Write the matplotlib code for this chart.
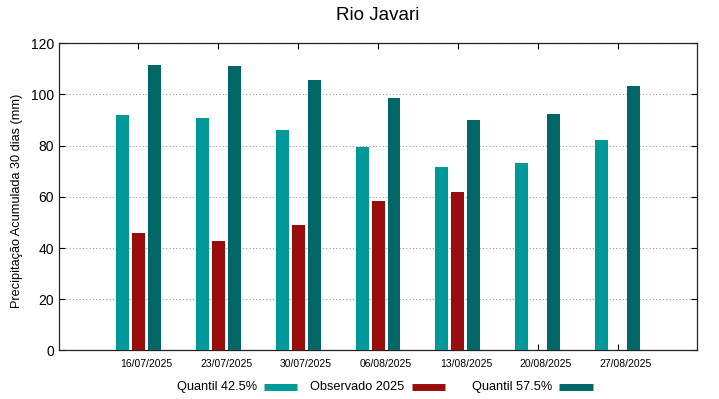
import numpy as np
import matplotlib
matplotlib.use("Agg")
import matplotlib.pyplot as plt
import matplotlib.transforms as mtransforms
from matplotlib.lines import Line2D

plt.rcParams['font.family'] = ['Liberation Sans', 'DejaVu Sans']

# Dados
datas = ['16/07/2025', '23/07/2025', '30/07/2025', '06/08/2025',
         '13/08/2025', '20/08/2025', '27/08/2025']
quantil_425 = [91.9, 91.0, 86.3, 79.5, 71.7, 73.1, 82.2]
observado = [45.7, 42.9, 48.9, 58.5, 61.9, np.nan, np.nan]
quantil_575 = [111.5, 111.2, 105.5, 98.8, 90.0, 92.3, 103.2]

cor_q1 = '#009999'
cor_obs = '#990d0d'
cor_q2 = '#006666'

fig = plt.figure(figsize=(7.19, 3.99), dpi=100)
ax = fig.add_axes([0.0821, 0.1216, 0.8873, 0.7699])

x = np.arange(len(datas))
w = 0.1625
ax.bar(x - 0.2, quantil_425, w, color=cor_q1, zorder=3)
ax.bar(x, observado, w, color=cor_obs, zorder=3)
ax.bar(x + 0.2, quantil_575, w, color=cor_q2, zorder=3)

ax.set_xlim(-0.99, 6.99)
ax.set_ylim(0, 120)
ax.set_yticks(np.arange(0, 121, 20))
ax.set_xticks(x)
ax.set_xticklabels(datas, fontsize=7.5)
ax.tick_params(axis='y', labelsize=10, direction='in', right=True, length=4, width=0.8)
ax.tick_params(axis='x', direction='in', top=True, length=4, width=0.8, pad=6)
ax.yaxis.grid(True, linestyle=(0, (1, 2)), color='#999999', linewidth=0.8)
ax.set_axisbelow(True)
for s in ax.spines.values():
    s.set_linewidth(0.9)
    s.set_color('#222222')

# desloca os rótulos de data um pouco para a direita, como no original
desloc = mtransforms.ScaledTranslation(8 / 100, 0, fig.dpi_scale_trans)
for lbl in ax.get_xticklabels():
    lbl.set_transform(lbl.get_transform() + desloc)

fig.text(17 / 719, 1 - 201 / 399, 'Precipitação Acumulada 30 dias (mm)',
         rotation=90, ha='center', va='center', fontsize=9.2)
fig.text(378 / 719, 1 - 15 / 399, 'Rio Javari', ha='center', va='center', fontsize=13.5)

# legenda no estilo do gnuplot
legenda = [('Quantil 42.5%', cor_q1, 257, 264, 297),
           ('Observado 2025', cor_obs, 404, 412, 445),
           ('Quantil 57.5%', cor_q2, 552, 559, 593)]
yl = 1 - 387 / 399
for texto, cor, xt, x0, x1 in legenda:
    fig.text(xt / 719, yl, texto, ha='right', va='center', fontsize=9.2)
    fig.add_artist(Line2D([x0 / 719, x1 / 719], [yl, yl], color=cor, linewidth=5,
                          solid_capstyle='butt', transform=fig.transFigure))

fig.savefig('out.png', dpi=100)
